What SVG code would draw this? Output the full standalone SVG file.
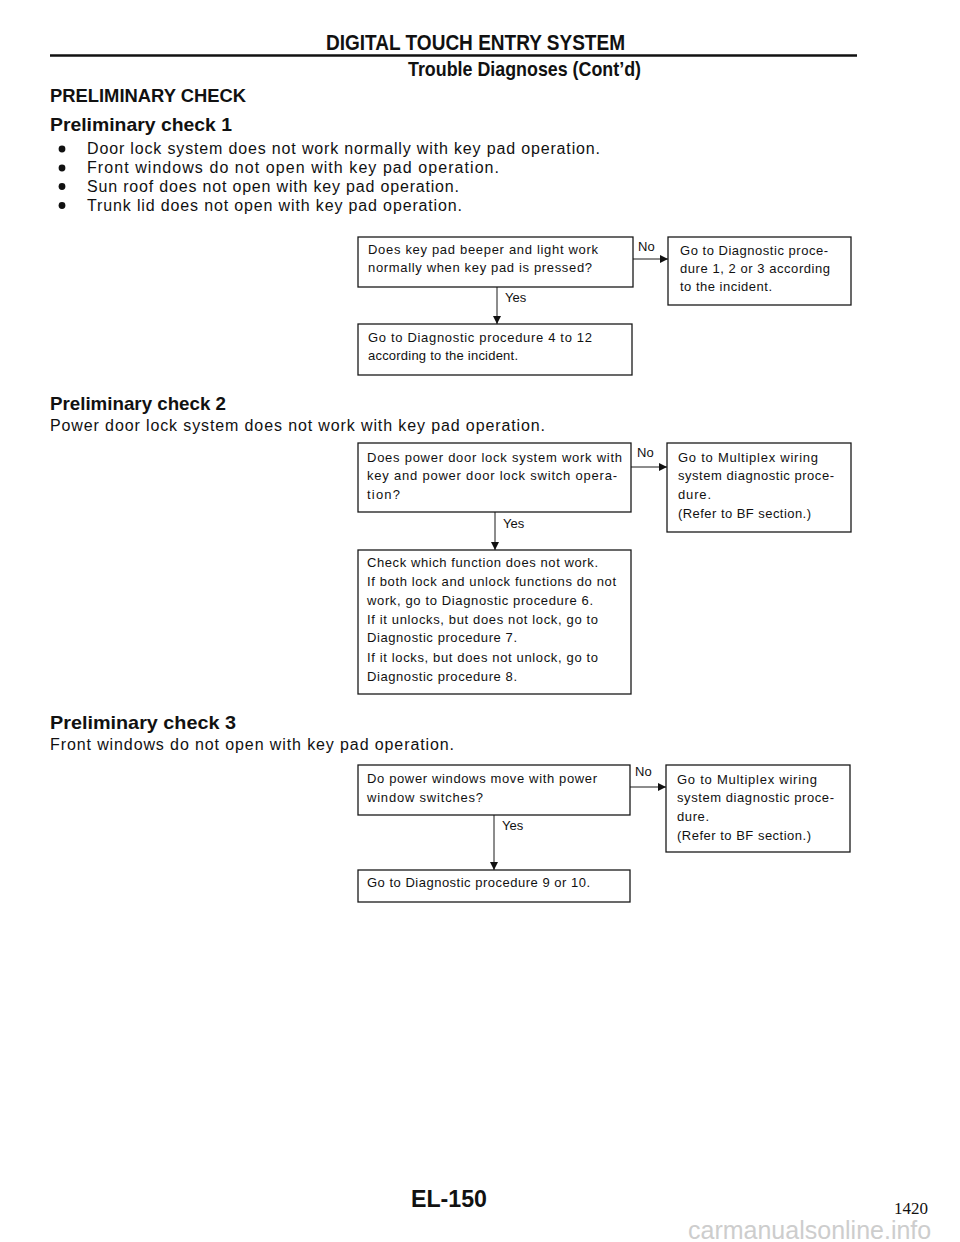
<svg xmlns="http://www.w3.org/2000/svg" width="960" height="1242" viewBox="0 0 960 1242">
<style>
.bg{fill:#fff}
.hd{font-family:"Liberation Sans",Arial,sans-serif;font-weight:bold;fill:#111}
.bd{font-family:"Liberation Sans",Arial,sans-serif;font-size:16px;fill:#111}
.bx{fill:#fff;stroke:#1a1a1a;stroke-width:1.3}
.bt{font-family:"Liberation Sans",Arial,sans-serif;font-size:13px;fill:#111}
.lb{font-family:"Liberation Sans",Arial,sans-serif;font-size:13px;fill:#111}
.cn{stroke:#1a1a1a;stroke-width:1;fill:none}
</style>
<defs>
<marker id="ah" viewBox="0 0 10 10" refX="10" refY="5" markerWidth="8" markerHeight="8" markerUnits="userSpaceOnUse" orient="auto">
<path d="M0,0 L10,5 L0,10 z" fill="#111"/>
</marker>
</defs>
<rect class="bg" x="0" y="0" width="960" height="1242"/>

<g id="header">
<text class="hd" x="326" y="50" font-size="22" textLength="299" lengthAdjust="spacingAndGlyphs">DIGITAL TOUCH ENTRY SYSTEM</text>
<line x1="50" y1="55.5" x2="857" y2="55.5" stroke="#111" stroke-width="2.6"/>
<text class="hd" x="408" y="76" font-size="21" textLength="233" lengthAdjust="spacingAndGlyphs">Trouble Diagnoses (Cont’d)</text>
<text class="hd" x="50" y="102" font-size="18.5" textLength="196" lengthAdjust="spacingAndGlyphs">PRELIMINARY CHECK</text>
</g>

<g id="check1-text">
<text class="hd" x="50" y="131" font-size="19" textLength="182" lengthAdjust="spacingAndGlyphs">Preliminary check 1</text>
<circle cx="62" cy="149" r="3.4" fill="#111"/>
<circle cx="62" cy="168" r="3.4" fill="#111"/>
<circle cx="62" cy="186.5" r="3.4" fill="#111"/>
<circle cx="62" cy="205.5" r="3.4" fill="#111"/>
<text class="bd" x="87" y="154" textLength="513" lengthAdjust="spacing">Door lock system does not work normally with key pad operation.</text>
<text class="bd" x="87" y="173" textLength="412" lengthAdjust="spacing">Front windows do not open with key pad operation.</text>
<text class="bd" x="87" y="191.5" textLength="372" lengthAdjust="spacing">Sun roof does not open with key pad operation.</text>
<text class="bd" x="87" y="210.5" textLength="375" lengthAdjust="spacing">Trunk lid does not open with key pad operation.</text>
</g>

<g id="connectors">
<line class="cn" x1="633" y1="259" x2="668" y2="259" marker-end="url(#ah)"/>
<line class="cn" x1="497" y1="287" x2="497" y2="324" marker-end="url(#ah)"/>
<line class="cn" x1="631" y1="467" x2="667" y2="467" marker-end="url(#ah)"/>
<line class="cn" x1="495" y1="512" x2="495" y2="550" marker-end="url(#ah)"/>
<line class="cn" x1="630" y1="787" x2="666" y2="787" marker-end="url(#ah)"/>
<line class="cn" x1="494" y1="815" x2="494" y2="870" marker-end="url(#ah)"/>
<text class="lb" x="638" y="251">No</text>
<text class="lb" x="505" y="302">Yes</text>
<text class="lb" x="637" y="457">No</text>
<text class="lb" x="503" y="528">Yes</text>
<text class="lb" x="635" y="776">No</text>
<text class="lb" x="502" y="830">Yes</text>
</g>

<g id="boxA">
<rect class="bx" x="358" y="237" width="275" height="50"/>
<text class="bt" x="368" y="254" textLength="230" lengthAdjust="spacing">Does key pad beeper and light work</text>
<text class="bt" x="368" y="272" textLength="224" lengthAdjust="spacing">normally when key pad is pressed?</text>
</g>
<g id="boxB">
<rect class="bx" x="668" y="237" width="183" height="68"/>
<text class="bt" x="680" y="255" textLength="148" lengthAdjust="spacing">Go to Diagnostic proce-</text>
<text class="bt" x="680" y="273" textLength="150" lengthAdjust="spacing">dure 1, 2 or 3 according</text>
<text class="bt" x="680" y="291" textLength="92" lengthAdjust="spacing">to the incident.</text>
</g>
<g id="boxC">
<rect class="bx" x="358" y="324" width="274" height="51"/>
<text class="bt" x="368" y="342" textLength="224" lengthAdjust="spacing">Go to Diagnostic procedure 4 to 12</text>
<text class="bt" x="368" y="360" textLength="150" lengthAdjust="spacing">according to the incident.</text>
</g>

<g id="check2-text">
<text class="hd" x="50" y="410" font-size="19" textLength="176" lengthAdjust="spacingAndGlyphs">Preliminary check 2</text>
<text class="bd" x="50" y="431" textLength="495" lengthAdjust="spacing">Power door lock system does not work with key pad operation.</text>
</g>

<g id="boxD">
<rect class="bx" x="358" y="443" width="273" height="69"/>
<text class="bt" x="367" y="462" textLength="255" lengthAdjust="spacing">Does power door lock system work with</text>
<text class="bt" x="367" y="480" textLength="250" lengthAdjust="spacing">key and power door lock switch opera-</text>
<text class="bt" x="367" y="499" textLength="33" lengthAdjust="spacing">tion?</text>
</g>
<g id="boxE">
<rect class="bx" x="667" y="443" width="184" height="89"/>
<text class="bt" x="678" y="462" textLength="140" lengthAdjust="spacing">Go to Multiplex wiring</text>
<text class="bt" x="678" y="480" textLength="156" lengthAdjust="spacing">system diagnostic proce-</text>
<text class="bt" x="678" y="499" textLength="33" lengthAdjust="spacing">dure.</text>
<text class="bt" x="678" y="518" textLength="133" lengthAdjust="spacing">(Refer to BF section.)</text>
</g>
<g id="boxF">
<rect class="bx" x="358" y="550" width="273" height="144"/>
<text class="bt" x="367" y="567" textLength="231" lengthAdjust="spacing">Check which function does not work.</text>
<text class="bt" x="367" y="586" textLength="249" lengthAdjust="spacing">If both lock and unlock functions do not</text>
<text class="bt" x="367" y="605" textLength="226" lengthAdjust="spacing">work, go to Diagnostic procedure 6.</text>
<text class="bt" x="367" y="624" textLength="231" lengthAdjust="spacing">If it unlocks, but does not lock, go to</text>
<text class="bt" x="367" y="642" textLength="150" lengthAdjust="spacing">Diagnostic procedure 7.</text>
<text class="bt" x="367" y="662" textLength="231" lengthAdjust="spacing">If it locks, but does not unlock, go to</text>
<text class="bt" x="367" y="681" textLength="150" lengthAdjust="spacing">Diagnostic procedure 8.</text>
</g>

<g id="check3-text">
<text class="hd" x="50" y="729" font-size="19" textLength="186" lengthAdjust="spacingAndGlyphs">Preliminary check 3</text>
<text class="bd" x="50" y="750" textLength="404" lengthAdjust="spacing">Front windows do not open with key pad operation.</text>
</g>

<g id="boxG">
<rect class="bx" x="358" y="765" width="272" height="50"/>
<text class="bt" x="367" y="783" textLength="230" lengthAdjust="spacing">Do power windows move with power</text>
<text class="bt" x="367" y="802" textLength="116" lengthAdjust="spacing">window switches?</text>
</g>
<g id="boxH">
<rect class="bx" x="666" y="765" width="184" height="87"/>
<text class="bt" x="677" y="784" textLength="140" lengthAdjust="spacing">Go to Multiplex wiring</text>
<text class="bt" x="677" y="802" textLength="157" lengthAdjust="spacing">system diagnostic proce-</text>
<text class="bt" x="677" y="821" textLength="32" lengthAdjust="spacing">dure.</text>
<text class="bt" x="677" y="840" textLength="134" lengthAdjust="spacing">(Refer to BF section.)</text>
</g>
<g id="boxI">
<rect class="bx" x="358" y="870" width="272" height="32"/>
<text class="bt" x="367" y="887" textLength="223" lengthAdjust="spacing">Go to Diagnostic procedure 9 or 10.</text>
</g>

<g id="footer">
<text class="hd" x="411" y="1207" font-size="23" textLength="76" lengthAdjust="spacingAndGlyphs">EL-150</text>
<text x="894" y="1214" font-family="'Liberation Serif','Times New Roman',serif" font-size="17" fill="#111">1420</text>
<text x="688" y="1239" font-family="'Liberation Sans',Arial,sans-serif" font-size="25" fill="#cdcdcd">carmanualsonline.info</text>
</g>
</svg>
